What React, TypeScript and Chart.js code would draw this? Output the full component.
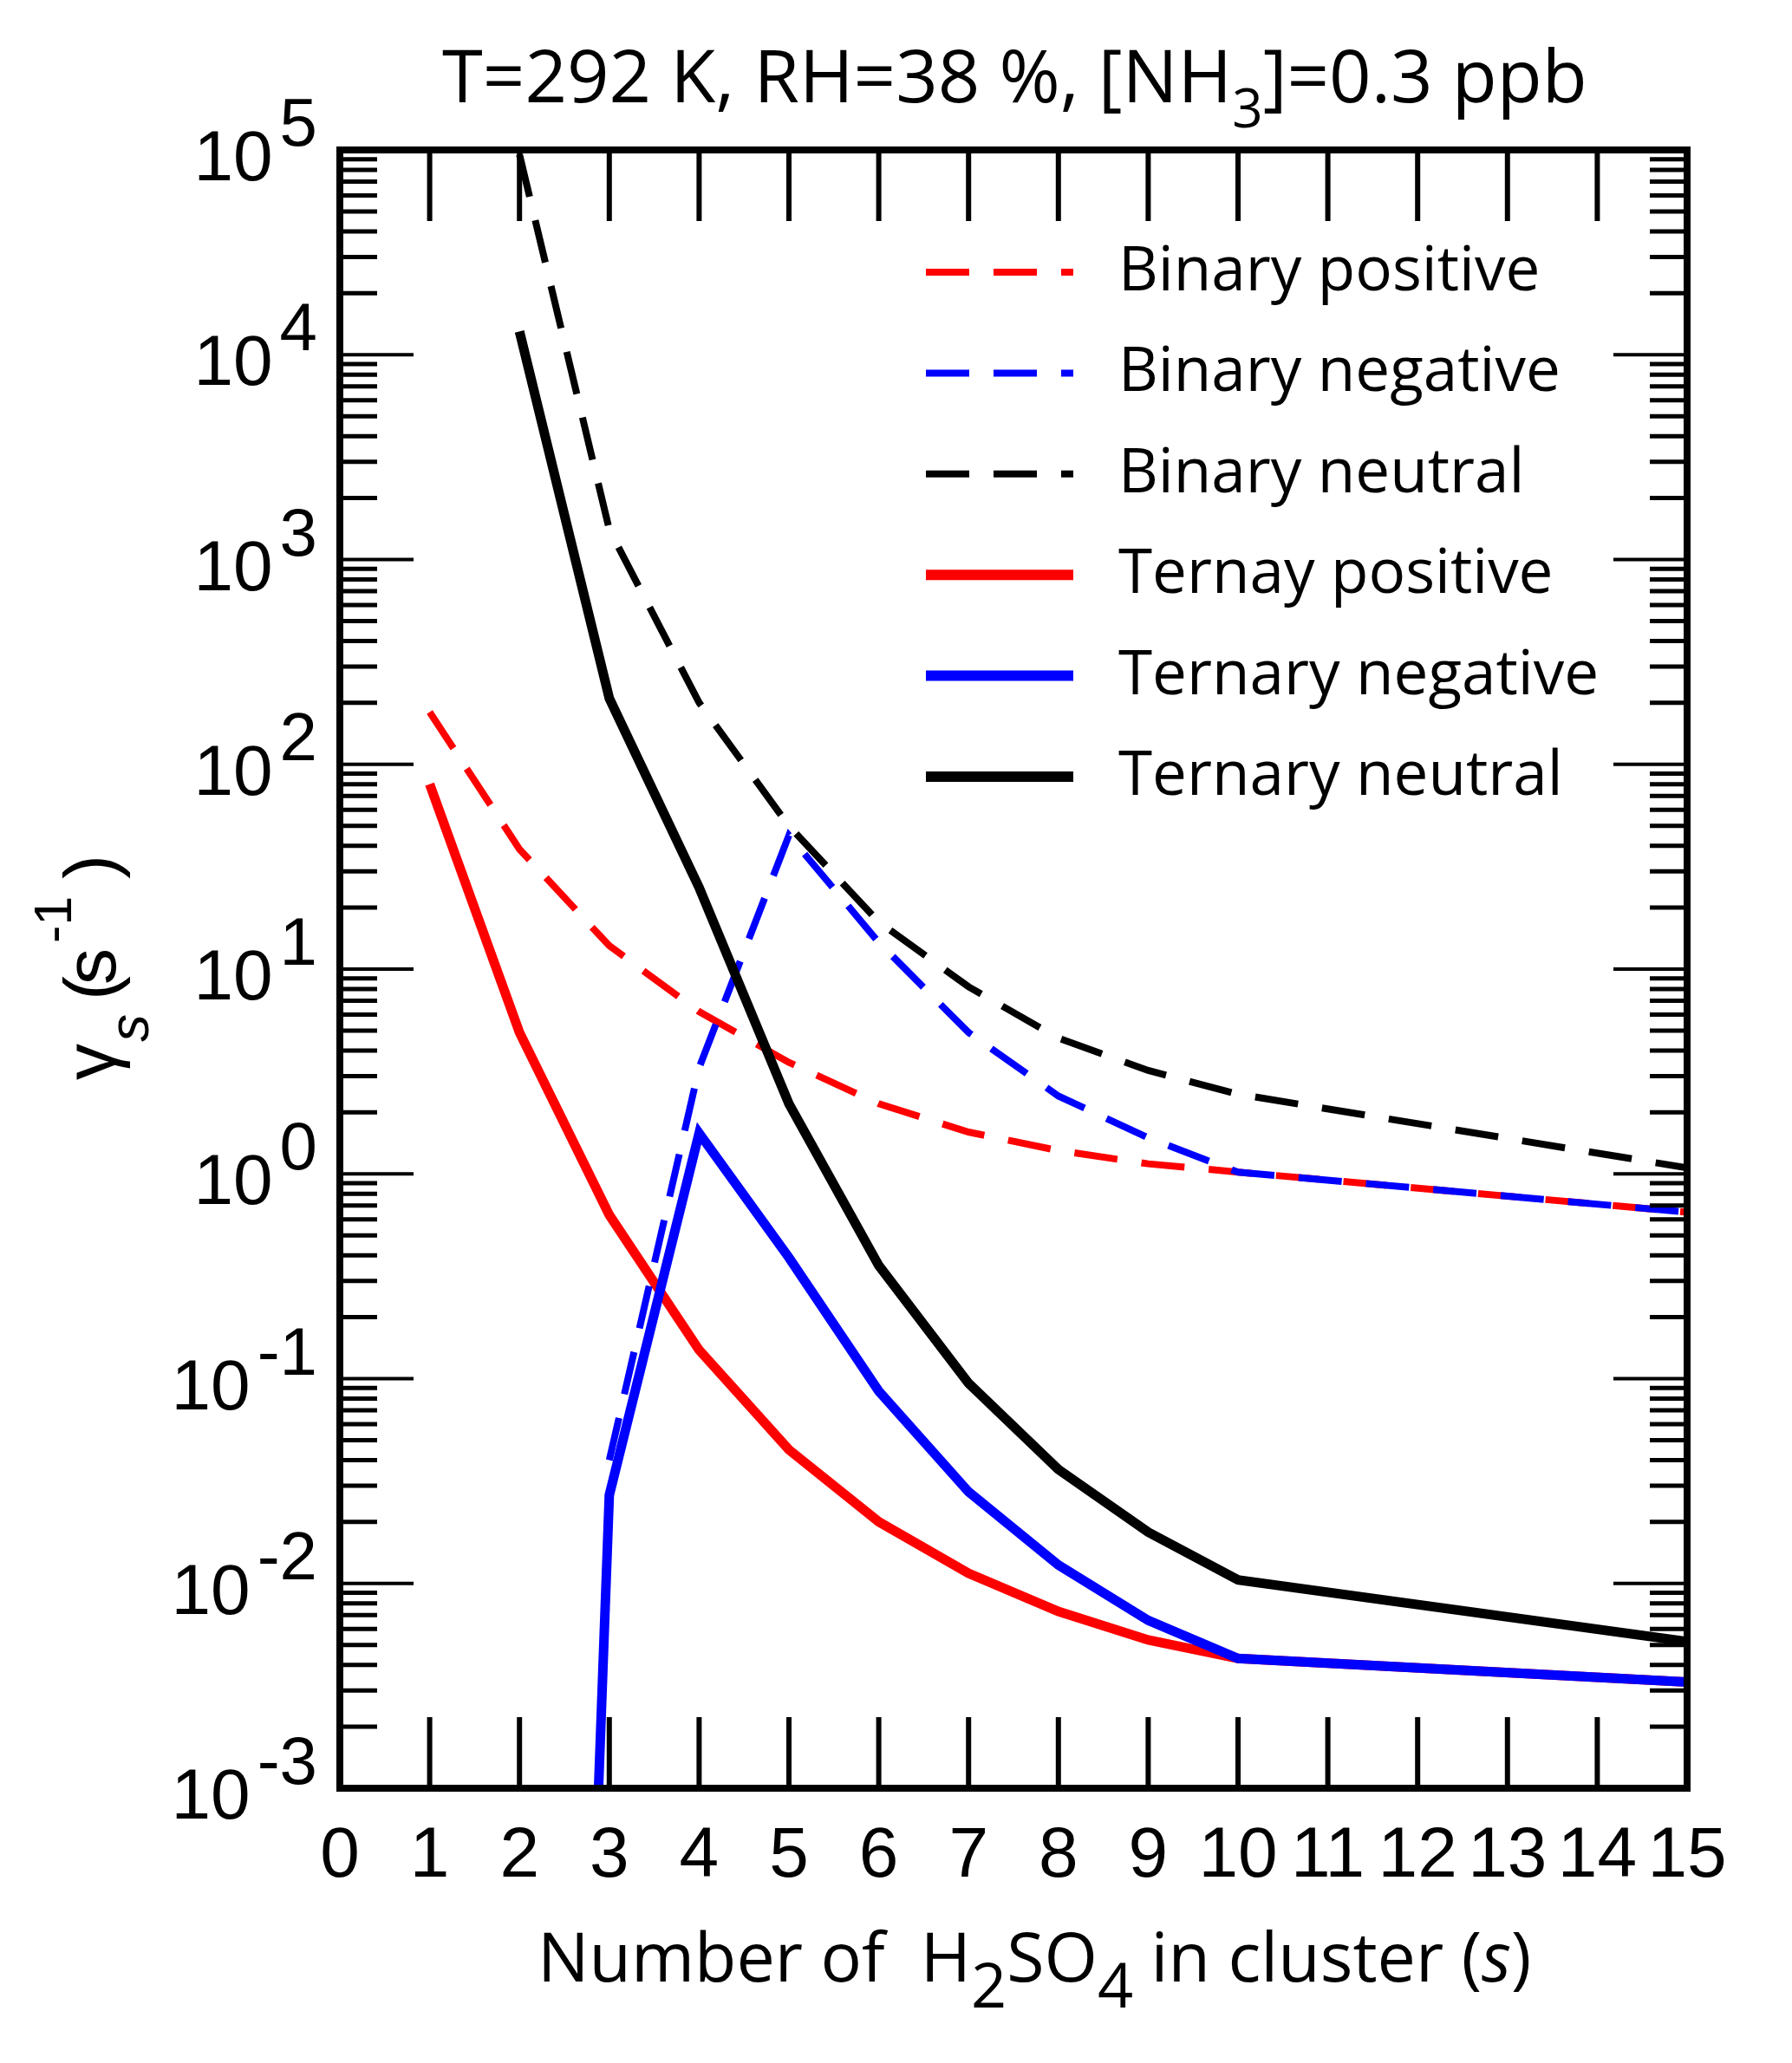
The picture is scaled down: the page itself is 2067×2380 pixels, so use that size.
import { useEffect, useRef } from "react";
import { Chart, registerables } from "chart.js";

Chart.register(...registerables);

// cluster sizes s that carry a value
const sizes = [1, 2, 3, 4, 5, 6, 7, 8, 9, 10, 15];

// evaporation / loss rates gamma_s (1/s), null where the curve has no point
const binaryPositive = [180, 38.5, 13, 6.2, 3.5, 2.2, 1.6, 1.3, 1.12, 1.02, 0.65];
const binaryNegative = [null, null, 0.04, 3.3, 45, 13.5, 4.9, 2.4, 1.5, 1.02, 0.65];
const binaryNeutral = [null, 9.5e4, 1.4e3, 200, 50, 17, 8.2, 4.6, 3.2, 2.45, 1.07];
const ternaryPositive = [80, 4.9, 0.63, 0.138, 0.045, 0.02, 0.0112, 0.0073, 0.0053, 0.0043, 0.0033];
const ternaryNegative = [null, 3e-14, 0.027, 1.58, 0.39, 0.087, 0.028, 0.0123, 0.0066, 0.0043, 0.0033];
const ternaryNeutral = [null, 1.3e4, 210, 25, 2.2, 0.357, 0.095, 0.036, 0.0178, 0.0104, 0.0052];

// axis ticks
const xTickValues = [0, 1, 2, 3, 4, 5, 6, 7, 8, 9, 10, 11, 12, 13, 14, 15];
const xTickLabels = ["0", "1", "2", "3", "4", "5", "6", "7", "8", "9", "10", "11", "12", "13", "14", "15"];
const yDecades = [-3, -2, -1, 0, 1, 2, 3, 4, 5];
const yExponentLabels = ["-3", "-2", "-1", "0", "1", "2", "3", "4", "5"];
const minorMultipliers = [2, 3, 4, 5, 6, 7, 8, 9];

const RED = "#ff0000";
const BLUE = "#0000ff";
const BLACK = "#000000";
const DASH = [50, 28];

const series = [
  { label: "Binary positive", values: binaryPositive, color: RED, dashed: true, order: 3 },
  { label: "Binary negative", values: binaryNegative, color: BLUE, dashed: true, order: 2 },
  { label: "Binary neutral", values: binaryNeutral, color: BLACK, dashed: true, order: 1 },
  { label: "Ternay positive", values: ternaryPositive, color: RED, dashed: false, order: 5 },
  { label: "Ternary negative", values: ternaryNegative, color: BLUE, dashed: false, order: 4 },
  { label: "Ternary neutral", values: ternaryNeutral, color: BLACK, dashed: false, order: 0 },
];

const SANS = "'Liberation Sans', Arial, sans-serif";
const OPEN = "'Open Sans', 'Noto Sans', sans-serif";

type Run = { text: string; font: string; dy?: number };

// draws pieces of text one after the other on one baseline
function drawRuns(ctx: CanvasRenderingContext2D, x: number, y: number, runs: Run[]) {
  let cx = x;
  ctx.textAlign = "left";
  ctx.textBaseline = "alphabetic";
  for (const r of runs) {
    ctx.font = r.font;
    ctx.fillText(r.text, cx, y + (r.dy || 0));
    cx += ctx.measureText(r.text).width;
  }
}

const decorations = {
  id: "decorations",
  afterDraw(chart: Chart) {
    const { ctx, chartArea, scales } = chart;
    const { left, right, top, bottom } = chartArea;
    const xs = scales.x;
    const ys = scales.y;
    const seg = (x1: number, y1: number, x2: number, y2: number) => {
      ctx.beginPath();
      ctx.moveTo(x1, y1);
      ctx.lineTo(x2, y2);
      ctx.stroke();
    };

    ctx.save();
    ctx.strokeStyle = "#000";
    ctx.fillStyle = "#000";
    ctx.setLineDash([]);
    ctx.lineCap = "butt";

    // x ticks, inward on bottom and top
    ctx.lineWidth = 6;
    xTickValues.forEach((v) => {
      const px = xs.getPixelForValue(v);
      seg(px, bottom, px, bottom - 82);
      seg(px, top, px, top + 82);
    });

    // y major ticks
    ctx.lineWidth = 4;
    yDecades.forEach((d) => {
      const py = ys.getPixelForValue(Math.pow(10, d));
      seg(left, py, left + 85, py);
      seg(right, py, right - 85, py);
    });

    // y minor ticks
    ctx.lineWidth = 5;
    yDecades.slice(0, -1).forEach((d) => {
      minorMultipliers.forEach((m) => {
        const py = ys.getPixelForValue(m * Math.pow(10, d));
        seg(left, py, left + 43, py);
        seg(right, py, right - 43, py);
      });
    });

    // frame
    ctx.lineWidth = 8;
    ctx.strokeRect(left, top, right - left, bottom - top);

    // x tick labels
    ctx.font = `82px ${SANS}`;
    ctx.textAlign = "center";
    ctx.textBaseline = "alphabetic";
    xTickValues.forEach((v, i) => {
      ctx.fillText(xTickLabels[i], xs.getPixelForValue(v), bottom + 102);
    });

    // y tick labels 10^k
    yDecades.forEach((d, i) => {
      const py = ys.getPixelForValue(Math.pow(10, d));
      const exp = yExponentLabels[i];
      const edge = left - 26;
      ctx.textAlign = "right";
      ctx.font = `78px ${SANS}`;
      ctx.fillText(exp, edge, py - 5);
      const w = ctx.measureText(exp).width;
      ctx.font = `82px ${SANS}`;
      ctx.fillText("10", edge - w - 8, py + 35);
    });

    // title
    drawRuns(ctx, 510, 118, [
      { text: "T=292 K, RH=38 %, [NH", font: `85px ${OPEN}` },
      { text: "3", font: `62px ${OPEN}`, dy: 29 },
      { text: "]=0.3 ppb", font: `85px ${OPEN}` },
    ]);

    // x axis title
    drawRuns(ctx, 620, 2286, [
      { text: "Number of  H", font: `79px ${OPEN}` },
      { text: "2", font: `72px ${OPEN}`, dy: 30 },
      { text: "SO", font: `79px ${OPEN}` },
      { text: "4", font: `72px ${OPEN}`, dy: 30 },
      { text: " in cluster (", font: `79px ${OPEN}` },
      { text: "s", font: `italic 79px ${OPEN}` },
      { text: ")", font: `79px ${OPEN}` },
    ]);

    // y axis title, rotated
    ctx.save();
    ctx.translate(133, (top + bottom) / 2);
    ctx.rotate(-Math.PI / 2);
    ctx.textAlign = "left";
    ctx.font = `84px ${SANS}`;
    ctx.fillText("\u03b3", -128, 0);
    ctx.font = `italic 64px ${SANS}`;
    ctx.fillText("s", -84, 38);
    ctx.font = `84px ${SANS}`;
    ctx.fillText("(", -36, 0);
    ctx.fillText("s", -18, 0);
    ctx.font = `61px ${SANS}`;
    ctx.fillText("-1", 30, -51);
    ctx.font = `84px ${SANS}`;
    ctx.fillText(")", 104, 0);
    ctx.restore();

    // legend
    series.forEach((s, i) => {
      const ly = 314 + i * 116.4;
      ctx.strokeStyle = s.color;
      ctx.lineWidth = s.dashed ? 8 : 12;
      ctx.setLineDash(s.dashed ? DASH : []);
      seg(1068, ly, 1238, ly);
      ctx.setLineDash([]);
      ctx.fillStyle = "#000";
      ctx.textAlign = "left";
      ctx.font = `71px ${OPEN}`;
      ctx.fillText(s.label, 1290, ly + 21);
    });

    ctx.restore();
  },
};

export default function App() {
  const canvasRef = useRef<HTMLCanvasElement | null>(null);

  useEffect(() => {
    const el = canvasRef.current;
    if (!el) return;

    const chart = new Chart(el, {
      type: "line",
      data: {
        datasets: series.map((s) => ({
          label: s.label,
          data: sizes
            .map((x, i) => ({ x, y: s.values[i] }))
            .filter((p) => p.y !== null) as { x: number; y: number }[],
          borderColor: s.color,
          backgroundColor: s.color,
          borderWidth: s.dashed ? 8 : 11,
          borderDash: s.dashed ? DASH : [],
          pointRadius: 0,
          tension: 0,
          fill: false,
          order: s.order,
        })),
      },
      options: {
        responsive: false,
        devicePixelRatio: 1,
        animation: false,
        layout: { padding: { left: 392, right: 121, top: 173, bottom: 317 } },
        scales: {
          x: { type: "linear", min: 0, max: 15, display: false },
          y: { type: "logarithmic", min: 1e-3, max: 1e5, display: false },
        },
        plugins: {
          legend: { display: false },
          tooltip: { enabled: false },
          title: { display: false },
        },
      },
      plugins: [decorations],
    });

    return () => {
      chart.destroy();
    };
  }, []);

  return (
    <div style={{ position: "absolute", left: 0, top: 0, width: 2067, height: 2380, background: "#fff" }}>
      <canvas ref={canvasRef} width={2067} height={2380} style={{ display: "block", width: 2067, height: 2380 }} />
    </div>
  );
}
